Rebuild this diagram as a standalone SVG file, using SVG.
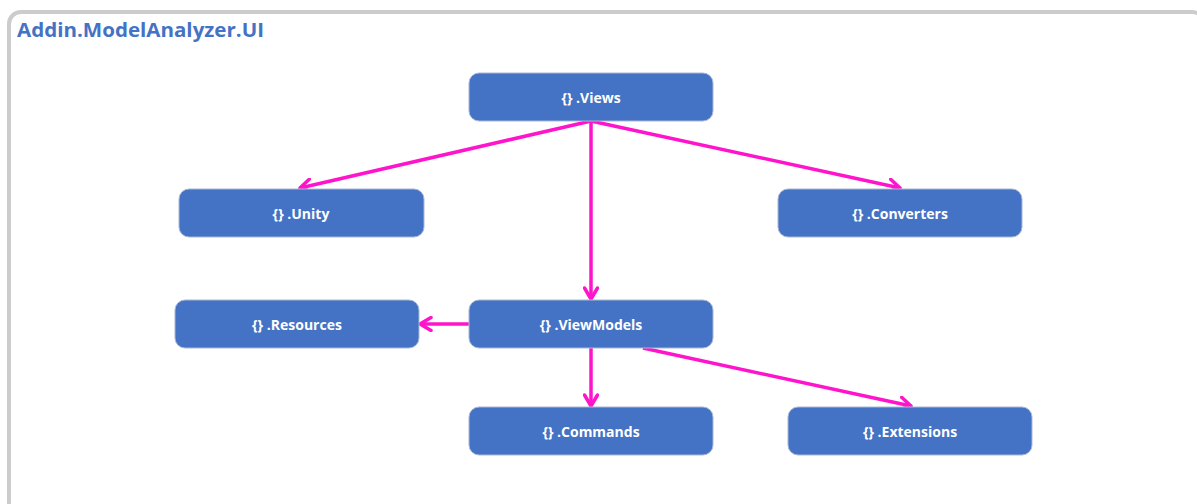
<svg xmlns="http://www.w3.org/2000/svg" width="1197" height="504" viewBox="0 0 1197 504">
  <style>
    .node rect { fill: #4472C4; stroke: #A9B8D6; stroke-width: 1; }
    .node text { fill: #FFFFFF; font-family: "Open Sans", "Liberation Sans", sans-serif; font-weight: bold; font-size: 14px; text-anchor: middle; dominant-baseline: central; }
    .edge { fill: none; stroke: #FF14CC; stroke-width: 3.5; marker-end: url(#chevron); }
  </style>
  <defs>
    <marker id="chevron" viewBox="0 0 16 16" refX="13" refY="8" markerWidth="16" markerHeight="16" markerUnits="userSpaceOnUse" orient="auto">
      <path d="M2,1.5 L13,8 L2,14.5" fill="none" stroke="#FF14CC" stroke-width="3.5" stroke-linecap="round" stroke-linejoin="round"/>
    </marker>
  </defs>
  <rect width="1197" height="504" fill="#FFFFFF"/>
  <!-- package frame -->
  <rect x="9" y="12" width="1195" height="510" rx="12" ry="12" fill="none" stroke="#CCCCCC" stroke-width="4"/>
  <text x="17" y="37" font-family="'Open Sans', 'Liberation Sans', sans-serif" font-weight="bold" font-size="20" fill="#4472C4" textLength="247" lengthAdjust="spacingAndGlyphs">Addin.ModelAnalyzer.UI</text>

  <g id="connectors">
    <line class="edge" x1="591" y1="121" x2="300" y2="188"/>
    <line class="edge" x1="591" y1="121" x2="591" y2="299"/>
    <line class="edge" x1="591" y1="121" x2="900" y2="188"/>
    <line class="edge" x1="469" y1="324" x2="420" y2="324"/>
    <line class="edge" x1="591" y1="348" x2="591" y2="406"/>
    <line class="edge" x1="643" y1="348" x2="911" y2="406"/>
  </g>

  <g id="views" class="node"><rect x="469" y="73" width="244" height="48" rx="10"/><text x="591" y="97">{} .Views</text></g>
  <g id="unity" class="node"><rect x="179" y="189" width="245" height="48" rx="10"/><text x="301" y="213">{} .Unity</text></g>
  <g id="converters" class="node"><rect x="778" y="189" width="244" height="48" rx="10"/><text x="900" y="213">{} .Converters</text></g>
  <g id="resources" class="node"><rect x="175" y="300" width="244" height="48" rx="10"/><text x="297" y="324">{} .Resources</text></g>
  <g id="viewmodels" class="node"><rect x="469" y="300" width="244" height="48" rx="10"/><text x="591" y="324">{} .ViewModels</text></g>
  <g id="commands" class="node"><rect x="469" y="407" width="244" height="48" rx="10"/><text x="591" y="431">{} .Commands</text></g>
  <g id="extensions" class="node"><rect x="788" y="407" width="244" height="48" rx="10"/><text x="910" y="431">{} .Extensions</text></g>
</svg>
